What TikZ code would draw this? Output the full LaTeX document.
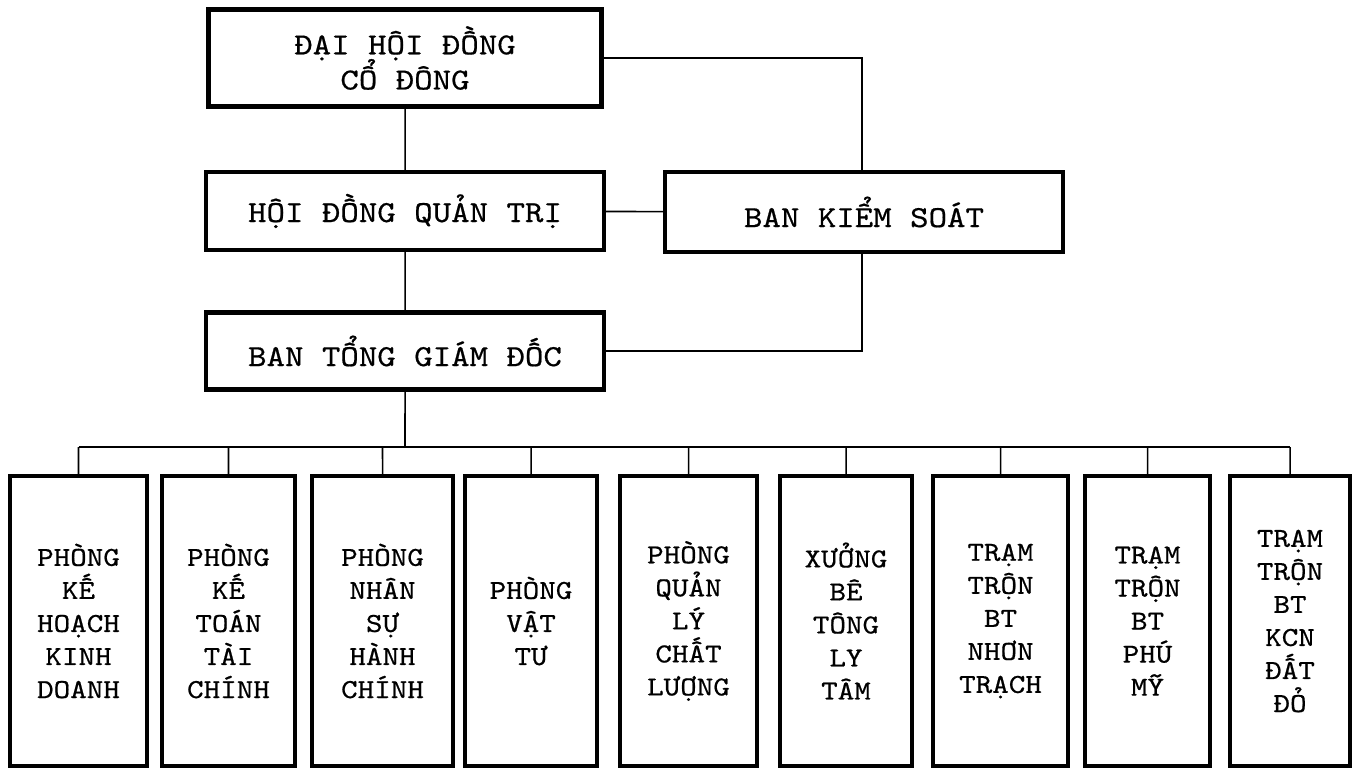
\documentclass[tikz,border=0pt]{standalone}
\usepackage{fontspec}
\setmonofont{lmmono10-regular.otf}[FakeStretch=1.15,FakeBold=0.6]
\newcommand\orgtopfont{\ttfamily\fontsize{8.7}{10}\selectfont\lineskiplimit=-5pt\relax}
\newcommand\orgdeptfont{\ttfamily\fontsize{7.8}{9.4}\selectfont\lineskiplimit=-5pt\relax}

\begin{document}
\begin{tikzpicture}[scale=0.1]
\tikzstyle{every node}+=[inner sep=0pt]
\tikzstyle{topbox}=[draw=black, line width=1.15pt, align=center, font=\orgtopfont]
\tikzstyle{deptbox}=[draw=black, line width=1.15pt, align=center, minimum height=2.9cm, font=\orgdeptfont]
\tikzstyle{link}=[black, line width=0.45pt]
\useasboundingbox (0,0) rectangle (135.7,-77.2);
\node [topbox, minimum width=3.93cm, minimum height=0.97cm] (dhdcd) at (40.5,-5.8) {ĐẠI HỘI ĐỒNG\\CỔ ĐÔNG};
\node [topbox, minimum width=3.98cm, minimum height=0.78cm] (hdqt) at (40.5,-21.1) {HỘI ĐỒNG QUẢN TRỊ};
\node [topbox, minimum width=3.98cm, minimum height=0.80cm] (bks) at (86.4,-21.2) {BAN KIỂM SOÁT};
\node [topbox, minimum width=3.98cm, minimum height=0.77cm] (btgd) at (40.5,-35.1) {BAN TỔNG GIÁM ĐỐC};
\coordinate (bus) at (40.5,-44.7);
\node [deptbox, minimum width=1.37cm] (khkd) at (7.85,-62.1) {PHÒNG\\KẾ\\HOẠCH\\KINH\\DOANH};
\node [deptbox, minimum width=1.33cm] (ktcc) at (22.85,-62.1) {PHÒNG\\KẾ\\TOÁN\\TÀI\\CHÍNH};
\node [deptbox, minimum width=1.41cm] (nshc) at (38.25,-62.1) {PHÒNG\\NHÂN\\SỰ\\HÀNH\\CHÍNH};
\node [deptbox, minimum width=1.32cm] (vattu) at (53.1,-62.1) {PHÒNG\\VẬT\\TƯ};
\node [deptbox, minimum width=1.37cm] (qlcl) at (68.85,-62.1) {PHÒNG\\QUẢN\\LÝ\\CHẤT\\LƯỢNG};
\node [deptbox, minimum width=1.32cm] (xuong) at (84.6,-62.1) {XƯỞNG\\BÊ\\TÔNG\\LY\\TÂM};
\node [deptbox, minimum width=1.35cm] (nhontrach) at (100.05,-62.1) {TRẠM\\TRỘN\\BT\\NHƠN\\TRẠCH};
\node [deptbox, minimum width=1.25cm] (phumy) at (114.75,-62.1) {TRẠM\\TRỘN\\BT\\PHÚ\\MỸ};
\node [deptbox, minimum width=1.20cm] (datdo) at (129,-62.1) {TRẠM\\TRỘN\\BT\\KCN\\ĐẤT\\ĐỎ};
\draw [link] (dhdcd) -- (hdqt);
\draw [link] (hdqt) -- (btgd);
\draw [link] (hdqt) -- (bks);
\draw [link] (dhdcd.east) -| ([xshift=-2.2mm]bks.north);
\draw [link] ([xshift=-2.2mm]bks.south) |- (btgd.east);
\draw [link] (btgd) -- (bus);
\draw [link] (khkd.north |- bus) -- (datdo.north |- bus);
\draw [link] (khkd.north |- bus) -- (khkd);
\draw [link] (ktcc.north |- bus) -- (ktcc);
\draw [link] (nshc.north |- bus) -- (nshc);
\draw [link] (vattu.north |- bus) -- (vattu);
\draw [link] (qlcl.north |- bus) -- (qlcl);
\draw [link] (xuong.north |- bus) -- (xuong);
\draw [link] (nhontrach.north |- bus) -- (nhontrach);
\draw [link] (phumy.north |- bus) -- (phumy);
\draw [link] (datdo.north |- bus) -- (datdo);
\end{tikzpicture}
\end{document}
